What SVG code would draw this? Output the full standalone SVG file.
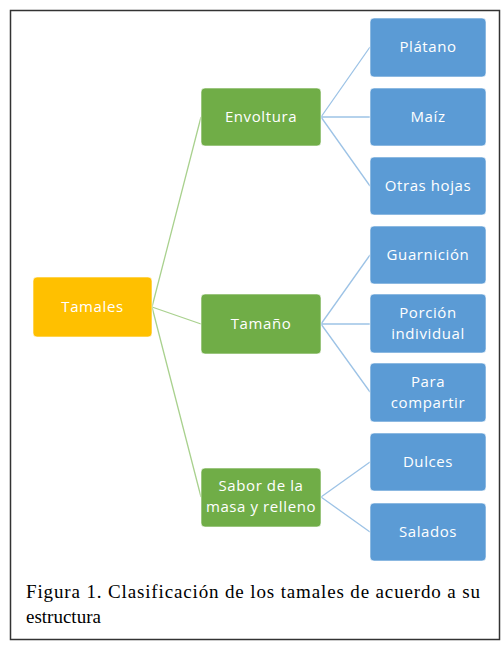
<svg xmlns="http://www.w3.org/2000/svg" width="504" height="645" viewBox="0 0 504 645">
<style>
.box{stroke:#ffffff;stroke-width:1;stroke-opacity:0.6}
.root{fill:#FFC000}
.mid{fill:#70AD47}
.leaf{fill:#5B9BD5}
.lbl{font-family:"Open Sans","DejaVu Sans",sans-serif;font-size:15px;letter-spacing:0.6px;fill:#ffffff;text-anchor:middle}
.gl{stroke:#A9D18E;stroke-width:1.3;fill:none}
.bl{stroke:#9DC3E6;stroke-width:1.3;fill:none}
.cap{font-family:"Liberation Serif","Times New Roman",serif;font-size:19px;fill:#000000}
</style>
<rect x="0" y="0" width="504" height="645" fill="#ffffff"/>
<rect x="10.5" y="10.5" width="489" height="629" fill="#ffffff" stroke="#333333" stroke-width="1.5"/>
<g id="connectors">
<path class="gl" d="M152 307 L201 117 M152 307 L201 324 M152 307 L201 497"/>
<path class="bl" d="M321 117 L370 47 M321 117 L370 117 M321 117 L370 186"/>
<path class="bl" d="M321 324 L370 255 M321 324 L370 324 M321 324 L370 392"/>
<path class="bl" d="M321 497 L370 462 M321 497 L370 532"/>
</g>
<g id="tamales"><rect class="box root" x="33" y="277" width="119" height="60" rx="4"/><text class="lbl" x="92.5" y="312">Tamales</text></g>
<g id="envoltura"><rect class="box mid" x="201" y="88" width="120" height="58" rx="4"/><text class="lbl" x="261" y="122">Envoltura</text></g>
<g id="tamano"><rect class="box mid" x="201" y="294" width="120" height="60" rx="4"/><text class="lbl" x="261" y="329">Tamaño</text></g>
<g id="sabor"><rect class="box mid" x="201" y="468" width="120" height="59" rx="4"/><text class="lbl" x="261" y="491">Sabor de la</text><text class="lbl" x="261" y="512">masa y relleno</text></g>
<g id="platano"><rect class="box leaf" x="370" y="18" width="116" height="59" rx="4"/><text class="lbl" x="428" y="52">Plátano</text></g>
<g id="maiz"><rect class="box leaf" x="370" y="88" width="116" height="58" rx="4"/><text class="lbl" x="428" y="122">Maíz</text></g>
<g id="otras"><rect class="box leaf" x="370" y="157" width="116" height="58" rx="4"/><text class="lbl" x="428" y="191">Otras hojas</text></g>
<g id="guarnicion"><rect class="box leaf" x="370" y="226" width="116" height="58" rx="4"/><text class="lbl" x="428" y="260">Guarnición</text></g>
<g id="porcion"><rect class="box leaf" x="370" y="294" width="116" height="59" rx="4"/><text class="lbl" x="428" y="318">Porción</text><text class="lbl" x="428" y="339">individual</text></g>
<g id="compartir"><rect class="box leaf" x="370" y="363" width="116" height="59" rx="4"/><text class="lbl" x="428" y="387">Para</text><text class="lbl" x="428" y="408">compartir</text></g>
<g id="dulces"><rect class="box leaf" x="370" y="433" width="116" height="58" rx="4"/><text class="lbl" x="428" y="467">Dulces</text></g>
<g id="salados"><rect class="box leaf" x="370" y="503" width="116" height="58" rx="4"/><text class="lbl" x="428" y="537">Salados</text></g>
<text class="cap" x="26" y="598" textLength="454" lengthAdjust="spacing">Figura 1. Clasificación de los tamales de acuerdo a su</text>
<text class="cap" x="26" y="623">estructura</text>
</svg>
